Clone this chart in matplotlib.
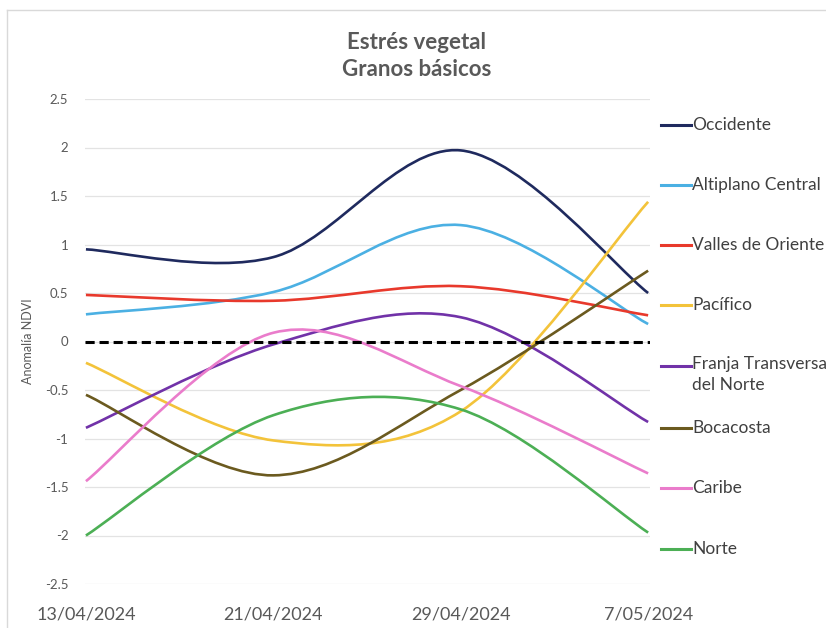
import numpy as np
import matplotlib
matplotlib.use("Agg")
import matplotlib.pyplot as plt
from matplotlib.path import Path
from matplotlib.patches import PathPatch
from matplotlib.lines import Line2D

plt.rcParams["font.family"] = ["Lato", "DejaVu Sans"]

dates = ["13/04/2024", "21/04/2024", "29/04/2024", "7/05/2024"]
regions = ["Occidente", "Altiplano Central", "Valles de Oriente", "Pacífico",
           "Franja Transversa\ndel Norte", "Bocacosta", "Caribe", "Norte"]
occidente = [0.95, 0.87, 1.97, 0.50]
altiplano = [0.28, 0.51, 1.20, 0.18]
valles = [0.48, 0.42, 0.57, 0.27]
pacifico = [-0.22, -1.02, -0.72, 1.44]
franja = [-0.89, -0.03, 0.25, -0.83]
bocacosta = [-0.55, -1.38, -0.50, 0.73]
caribe = [-1.44, 0.09, -0.46, -1.36]
norte = [-2.00, -0.76, -0.70, -1.97]
series = [occidente, altiplano, valles, pacifico, franja, bocacosta, caribe, norte]
colors = ["#1f2a5e", "#4bb0e3", "#e8392c", "#f3c33a",
          "#7132a8", "#6b5a1f", "#ea7ccb", "#4caf55"]


def smooth_path(xs, ys):
    # Excel-style smoothed line: cubic Bezier through each point
    P = np.column_stack([xs, ys]).astype(float)
    n = len(P)
    verts = [P[0]]
    codes = [Path.MOVETO]
    for i in range(n - 1):
        p0 = P[max(i - 1, 0)]
        p3 = P[min(i + 2, n - 1)]
        c1 = P[i] + (P[i + 1] - p0) / 6
        c2 = P[i + 1] - (p3 - P[i]) / 6
        verts += [c1, c2, P[i + 1]]
        codes += [Path.CURVE4] * 3
    return Path(verts, codes)


fig = plt.figure(figsize=(8.26, 6.28), dpi=100)
ax = fig.add_axes([85 / 826, 1 - 584 / 628, (650 - 85) / 826, (584 - 99) / 628])

x = np.arange(len(dates))
for vals, c in zip(series, colors):
    ax.add_patch(PathPatch(smooth_path(x, vals), fill=False, edgecolor=c,
                           lw=1.9, transform=ax.transData, zorder=3))
ax.axhline(0, color="black", ls=(0, (3, 1.6)), lw=2.2, zorder=4)

ax.set_xlim(-0.005, 3.01)
ax.set_ylim(-2.5, 2.5)
yt = np.arange(-2.5, 2.51, 0.5)
ax.set_yticks(yt)
ax.set_yticklabels([f"{v:g}" for v in yt])
ax.set_xticks(x)
ax.set_xticklabels(dates, fontsize=13, color="#595959")
ax.tick_params(axis="y", labelsize=9.5, labelcolor="#595959", length=0, pad=12)
ax.tick_params(axis="x", length=0, pad=16)
ax.grid(axis="y", color="#e3e3e3", lw=0.9)
ax.set_axisbelow(True)
for s in ax.spines.values():
    s.set_visible(False)
ax.set_ylabel("Anomalía NDVI", fontsize=9, color="#595959", labelpad=8)

fig.text(0.504, 1 - 56 / 628, "Estrés vegetal\nGranos básicos", ha="center",
         va="center", fontsize=16, fontweight="bold", color="#595959",
         linespacing=1.3)

# legend on the right
leg_y = [125, 185, 245, 305, 366, 428, 488, 549]
for lab, c, yp in zip(regions, colors, leg_y):
    fy = 1 - yp / 628
    fig.add_artist(Line2D([661 / 826, 691 / 826], [fy, fy], color=c, lw=2.2))
    if "\n" in lab:
        fig.text(692 / 826, fy + 10 / 628, lab, ha="left", va="top",
                 fontsize=12.5, color="#404040", linespacing=1.4)
    else:
        fig.text(692 / 826, fy, lab, ha="left", va="center",
                 fontsize=12.5, color="#404040")

# chart border
fig.add_artist(Line2D([7 / 826, 1], [1 - 10 / 628] * 2, color="#d9d9d9", lw=1))
fig.add_artist(Line2D([7 / 826] * 2, [0, 1 - 10 / 628], color="#d9d9d9", lw=1))

fig.savefig("out.png", dpi=100)
